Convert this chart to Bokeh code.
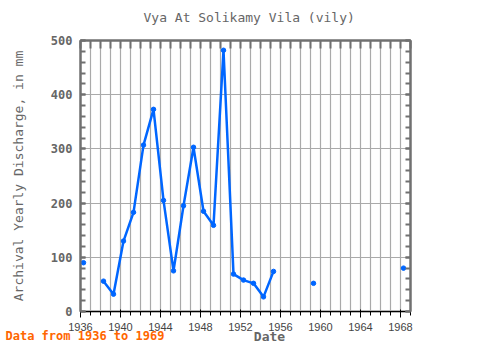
import numpy as np
from bokeh.plotting import figure
from bokeh.models import SingleIntervalTicker, LinearAxis, Label, CustomJSTickFormatter
from bokeh.embed import file_html
from bokeh.resources import INLINE

# ---- data ----
years = list(range(1936, 1969))
discharge = [90, None, 56, 32, 130, 183, 307, 373, 205, 75,
             195, 303, 185, 159, 482, 69, 58, 52, 27, 74,
             None, None, None, 52, None, None, None, None,
             None, None, None, None, 80]
x_ticks_interval = 4
title_text = "Vya At Solikamy Vila (vily)"
y_label_text = "Archival Yearly Discharge, in mm"
x_label_text = "Date"
footer_text = "Data from 1936 to 1969"

TEXT = "#666666"
FRAME = "#707070"
GRID = "#aaaaaa"
BLUE = "#0066ff"
FONT = "DejaVu Sans Mono"

x = np.array(years, dtype=float) + 0.3
y = np.array([np.nan if v is None else v for v in discharge], dtype=float)
mask = ~np.isnan(y)

p = figure(width=464, height=344, x_range=(1936, 1969), y_range=(0, 500),
           output_backend="svg", toolbar_location=None,
           min_border_left=80, min_border_right=54,
           min_border_top=40, min_border_bottom=33)
p.outline_line_color = FRAME
p.outline_line_width = 2

p.title.text = title_text
p.title.align = "left"
p.title.offset = 63
p.title.standoff = 4
p.title.text_font = FONT
p.title.text_font_size = "13px"
p.title.text_font_style = "normal"
p.title.text_color = TEXT

p.line(x, y, line_color=BLUE, line_width=2.5)
p.scatter(x[mask], y[mask], size=4.5, color=BLUE)

xt = SingleIntervalTicker(interval=x_ticks_interval, num_minor_ticks=4)
yt = SingleIntervalTicker(interval=100, num_minor_ticks=5)
p.xaxis.ticker = xt
p.yaxis.ticker = yt
p.xgrid.ticker = SingleIntervalTicker(interval=1)
p.ygrid.ticker = SingleIntervalTicker(interval=100)
for g in (p.xgrid, p.ygrid):
    g.grid_line_color = GRID
    g.grid_line_width = 1.2

blank = CustomJSTickFormatter(code="return ''")
top = LinearAxis(ticker=SingleIntervalTicker(interval=1, num_minor_ticks=0), formatter=blank)
right = LinearAxis(ticker=SingleIntervalTicker(interval=100, num_minor_ticks=5), formatter=blank)
p.add_layout(top, "above")
p.add_layout(right, "right")

for ax in (p.xaxis[0], top):
    ax.major_tick_in = 8
    ax.major_tick_out = 0
    ax.minor_tick_in = 8
    ax.minor_tick_out = 0
for ax in (p.yaxis[0], right):
    ax.major_tick_in = 5
    ax.major_tick_out = 0
    ax.minor_tick_in = 5
    ax.minor_tick_out = 0
for ax in (p.xaxis[0], p.yaxis[0], top, right):
    ax.axis_line_color = FRAME
    ax.axis_line_width = 2
    ax.major_tick_line_color = FRAME
    ax.minor_tick_line_color = FRAME
    ax.major_tick_line_width = 2
    ax.minor_tick_line_width = 2
    ax.major_label_text_font = FONT
    ax.major_label_text_font_style = "bold"
    ax.major_label_text_font_size = "12px"
    ax.major_label_text_color = TEXT
top.major_label_text_font_size = "0px"
right.major_label_text_font_size = "0px"
top.major_label_standoff = 0
right.major_label_standoff = 0
p.xaxis[0].major_label_standoff = 4
p.yaxis[0].major_label_standoff = 8

p.yaxis[0].axis_label = y_label_text
p.yaxis[0].axis_label_text_font = FONT
p.yaxis[0].axis_label_text_font_size = "13px"
p.yaxis[0].axis_label_text_font_style = "normal"
p.yaxis[0].axis_label_text_color = TEXT
p.yaxis[0].axis_label_standoff = 22

# side-panel labels are not clipped to the frame
p.add_layout(Label(x=-141, y=-25, x_units="screen", y_units="screen",
                   text=x_label_text, text_font=FONT, text_font_size="13px",
                   text_font_style="bold",
                   text_color=TEXT, text_align="center", text_baseline="middle"), "right")
p.add_layout(Label(x=-75, y=-295, x_units="screen", y_units="screen",
                   text=footer_text, text_font=FONT, text_font_size="12px",
                   text_font_style="bold",
                   text_color="#ff6600", text_align="left", text_baseline="middle"), "above")

open("out.html", "w").write(file_html(p, INLINE))
